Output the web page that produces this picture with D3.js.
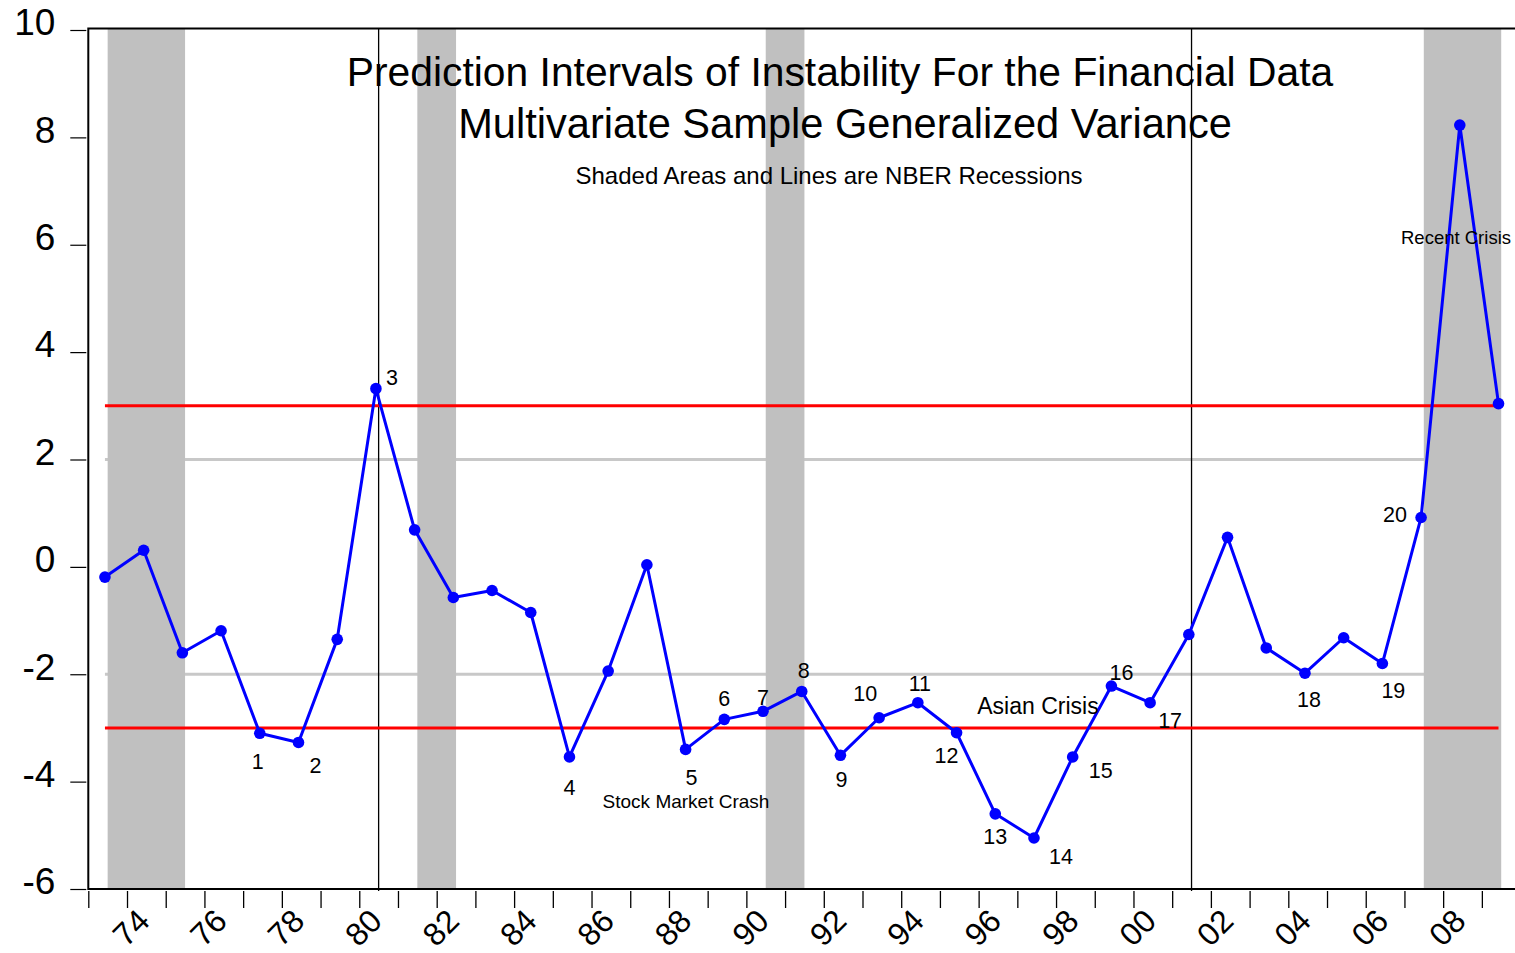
<!DOCTYPE html>
<html>
<head>
<meta charset="utf-8">
<script src="https://cdn.jsdelivr.net/npm/d3@7"></script>
<style>
  html, body { margin: 0; padding: 0; background: #fff; }
  svg { display: block; font-family: "Liberation Sans", Arial, Helvetica, sans-serif; }
</style>
</head>
<body>
<svg id="chart" width="1515" height="953"></svg>
<script>
// Annual observations of the generalized variance statistic
const years = [1973, 1974, 1975, 1976, 1977, 1978, 1979, 1980, 1981, 1982,
               1983, 1984, 1985, 1986, 1987, 1988, 1989, 1990, 1991, 1992,
               1993, 1994, 1995, 1996, 1997, 1998, 1999, 2000, 2001, 2002,
               2003, 2004, 2005, 2006, 2007, 2008, 2009];
const values = [-0.19, 0.31, -1.60, -1.19, -3.10, -3.27, -1.35, 3.32, 0.69, -0.57,
                -0.44, -0.85, -3.54, -1.94, 0.04, -3.40, -2.84, -2.69, -2.32, -3.51,
                -2.81, -2.53, -3.09, -4.60, -5.05, -3.54, -2.22, -2.53, -1.26, 0.55,
                -1.51, -1.98, -1.32, -1.80, 0.92, 8.23, 3.04];

// NBER recessions: shaded spans and single-line markers (fractional years)
const recessionSpans = [[1973.5, 1975.5], [1981.5, 1982.5], [1990.5, 1991.5], [2007.5, 2009.5]];
const recessionLines = [1980.5, 2001.5];

// Prediction interval bounds and reference gridlines
const bounds = [3, -3];
const gridLevels = [2, -2];

// Axis ticks
const yTicks = [-6, -4, -2, 0, 2, 4, 6, 8, 10];
const xTickYears = years;

// Numbered points (year -> label)
const markYears  = [1977, 1978, 1980, 1985, 1988, 1989, 1990, 1991, 1992, 1993,
                    1994, 1995, 1996, 1997, 1998, 1999, 2000, 2004, 2006, 2007];
const markLabels = ["1", "2", "3", "4", "5", "6", "7", "8", "9", "10",
                    "11", "12", "13", "14", "15", "16", "17", "18", "19", "20"];

// Event annotations
const eventNames = ["Stock Market Crash", "Asian Crisis", "Recent Crisis"];

const titleLines = ["Prediction Intervals of Instability For the Financial Data",
                    "Multivariate Sample Generalized Variance"];
const subtitle = "Shaded Areas and Lines are NBER Recessions";

// ---- layout ----
const obsOffset = 0.43;           // position of an observation within its year
const plotLeft = 88.3, yearWidth = 38.71, plotTop = 28.5, plotBottom = 889;
const markOffsets = [[-2, 28], [17, 23], [16, -11], [0, 31], [6, 28], [0, -21], [0, -14],
                     [2, -21], [1, 24], [-14, -24], [2, -19], [-10, 23], [0, 23], [27, 18],
                     [28, 14], [10, -14], [20, 18], [4, 26], [11, 27], [-26, -3]];
const eventLayout = [{ x: 686, y: 801, size: 19 }, { x: 1038, y: 706, size: 23 },
                     { x: 1456, y: 238, size: 18.5 }];

const svg = d3.select("#chart");

const x = d3.scaleLinear()
  .domain([1973, 2010])
  .range([plotLeft, plotLeft + 37 * yearWidth]);
const y = d3.scaleLinear().domain([-6, 10]).range([889, 30]);

const px = yr => x(yr + obsOffset);
const series = years.map((yr, i) => ({ year: yr, value: values[i] }));
const firstX = px(years[0]), lastX = px(years[years.length - 1]);

// gridlines (beneath shading)
svg.append("g").selectAll("line").data(gridLevels).join("line")
  .attr("x1", firstX).attr("x2", lastX)
  .attr("y1", d => y(d)).attr("y2", d => y(d))
  .attr("stroke", "#c8c8c8").attr("stroke-width", 3);

// recession shading
svg.append("g").selectAll("rect").data(recessionSpans).join("rect")
  .attr("x", d => x(d[0])).attr("width", d => x(d[1]) - x(d[0]))
  .attr("y", plotTop).attr("height", plotBottom - plotTop)
  .attr("fill", "#c0c0c0");

// recession lines
svg.append("g").selectAll("line").data(recessionLines).join("line")
  .attr("x1", d => x(d)).attr("x2", d => x(d))
  .attr("y1", plotTop).attr("y2", plotBottom + 2)
  .attr("stroke", "#000").attr("stroke-width", 1.3);

// prediction bounds
svg.append("g").selectAll("line").data(bounds).join("line")
  .attr("x1", firstX).attr("x2", lastX)
  .attr("y1", d => y(d)).attr("y2", d => y(d))
  .attr("stroke", "#ff0000").attr("stroke-width", 3);

// frame
svg.append("rect")
  .attr("x", plotLeft).attr("y", plotTop)
  .attr("width", 37 * yearWidth).attr("height", plotBottom - plotTop)
  .attr("fill", "none").attr("stroke", "#000").attr("stroke-width", 2);

// y axis
const yAxis = svg.append("g")
  .attr("transform", `translate(${plotLeft - 2},0)`)
  .call(d3.axisLeft(y).tickValues(yTicks).tickSize(16).tickPadding(15).tickFormat(d => String(d)));
yAxis.select(".domain").remove();
yAxis.selectAll(".tick line").attr("stroke", "#000").attr("stroke-width", 1.2);
yAxis.selectAll(".tick text")
  .attr("font-size", 37).attr("fill", "#000").attr("dy", "0.13em")
  .attr("font-family", "Liberation Sans, Arial, sans-serif");

// x axis
const xAxis = svg.append("g")
  .attr("transform", `translate(0,${plotBottom + 2})`)
  .call(d3.axisBottom(x).tickValues(xTickYears).tickSize(17)
    .tickFormat(d => d % 2 === 0 ? String(d).slice(2) : ""));
xAxis.select(".domain").remove();
xAxis.selectAll(".tick line").attr("stroke", "#000").attr("stroke-width", 1.3);
xAxis.selectAll(".tick text")
  .attr("font-size", 32).attr("fill", "#000")
  .attr("font-family", "Liberation Sans, Arial, sans-serif")
  .attr("y", 0).attr("dy", "0.35em").attr("text-anchor", "middle")
  .attr("transform", "translate(3.5,36.5) rotate(-45)");

// series line and markers
svg.append("path").datum(series)
  .attr("fill", "none").attr("stroke", "#0000ff").attr("stroke-width", 3)
  .attr("stroke-linejoin", "round")
  .attr("d", d3.line().x(d => px(d.year)).y(d => y(d.value)));

svg.append("g").selectAll("circle").data(series).join("circle")
  .attr("cx", d => px(d.year)).attr("cy", d => y(d.value)).attr("r", 5.8)
  .attr("fill", "#0000ff");

// numbered point labels
const valueOf = yr => values[years.indexOf(yr)];
svg.append("g").selectAll("text").data(markYears).join("text")
  .attr("x", (d, i) => px(d) + markOffsets[i][0])
  .attr("y", (d, i) => y(valueOf(d)) + markOffsets[i][1])
  .attr("dy", "0.35em").attr("text-anchor", "middle")
  .attr("font-size", 21.5).attr("fill", "#000")
  .text((d, i) => markLabels[i]);

// event annotations
svg.append("g").selectAll("text").data(eventNames).join("text")
  .attr("x", (d, i) => eventLayout[i].x)
  .attr("y", (d, i) => eventLayout[i].y)
  .attr("dy", "0.35em").attr("text-anchor", "middle")
  .attr("font-size", (d, i) => eventLayout[i].size).attr("fill", "#000")
  .text(d => d);

// titles
svg.append("text").attr("x", 840).attr("y", 86).attr("text-anchor", "middle")
  .attr("font-size", 40.8).attr("fill", "#000").text(titleLines[0]);
svg.append("text").attr("x", 845).attr("y", 138).attr("text-anchor", "middle")
  .attr("font-size", 41.6).attr("fill", "#000").text(titleLines[1]);
svg.append("text").attr("x", 829).attr("y", 184).attr("text-anchor", "middle")
  .attr("font-size", 24).attr("fill", "#000").text(subtitle);
</script>
</body>
</html>
